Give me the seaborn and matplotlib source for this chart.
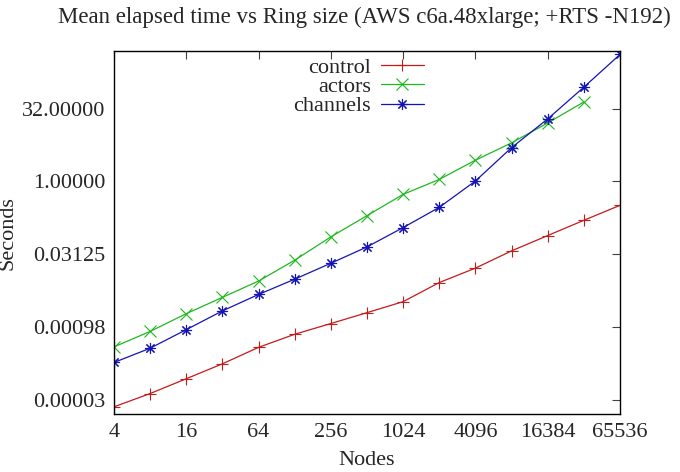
import matplotlib
matplotlib.use("Agg")
import matplotlib.pyplot as plt
import seaborn as sns
import pandas as pd
import numpy as np

nodes = [4, 8, 16, 32, 64, 128, 256, 512, 1024, 2048, 4096, 8192, 16384, 32768, 65536]
control = [2.18e-5, 4.1e-5, 8.3e-5, 1.69e-4, 3.7e-4, 6.9e-4, 1.15e-3, 1.93e-3, 3.26e-3,
           8.1e-3, 0.0161, 0.0366, 0.0759, 0.157, 0.32]
actors = [3.78e-4, 7.9e-4, 1.84e-3, 4.0e-3, 8.7e-3, 0.0235, 0.0713, 0.196, 0.54,
          1.10, 2.75, 6.27, 16.2, 44.0]
channels = [1.8e-4, 3.55e-4, 8.6e-4, 2.1e-3, 4.6e-3, 9.5e-3, 0.0203, 0.0442, 0.111,
            0.291, 1.02, 5.0, 19.6, 89.0, 422.0]
series_names = ["control", "actors", "channels"]
x_ticks = [4, 16, 64, 256, 1024, 4096, 16384, 65536]
y_ticks = [2**-15, 2**-10, 2**-5, 1, 32]
y_tick_labels = ["0.00003", "0.00098", "0.03125", "1.00000", "32.00000"]

rows = []
for name, vals in zip(series_names, [control, actors, channels]):
    for n, v in zip(nodes, vals):
        rows.append({"Nodes": n, "Seconds": v, "series": name})
df = pd.DataFrame(rows)

sns.set_style("white")
plt.rcParams["font.family"] = ["Liberation Serif", "DejaVu Serif"]
FS = 16

fig = plt.figure(figsize=(6.8, 4.72), dpi=100)
ax = fig.add_axes([114/680, 1 - 414.3/472, (620-114)/680, (414.3-51)/472])

palette = {"control": "#c41a1a", "actors": "#1fb81f", "channels": "#1414b4"}
markers = {"control": "+", "actors": "x", "channels": (8, 2, 0)}
sns.lineplot(data=df, x="Nodes", y="Seconds", hue="series", style="series",
             hue_order=series_names, style_order=series_names,
             palette=palette, markers=markers, dashes=False, linewidth=0.9,
             markersize=8, markeredgewidth=0.8, ax=ax, legend=True)
for ln in ax.lines:
    ln.set_markeredgecolor(ln.get_color())

ax.set_xscale("log", base=2)
ax.set_yscale("log", base=2)
ax.set_xlim(4, 65536)
ax.set_ylim(2**-16, 2**8.96)
ax.set_xticks(x_ticks)
ax.set_xticklabels([str(t) for t in x_ticks])
ax.set_yticks(y_ticks)
ax.set_yticklabels(y_tick_labels)
ax.minorticks_off()
ax.tick_params(axis="both", which="major", direction="in", length=6, width=0.8,
               top=True, right=True, labelsize=FS, pad=6, color="#404040")
for s in ax.spines.values():
    s.set_linewidth(1.0)
    s.set_color("black")

ax.set_xlabel("Nodes", fontsize=FS, labelpad=7)
ax.set_ylabel("Seconds", fontsize=FS)
ax.yaxis.set_label_coords((18 - 114) / 506, 0.5)
fig.text(364/680, 1 - 17/472, "Mean elapsed time vs Ring size (AWS c6a.48xlarge; +RTS -N192)",
         ha="center", va="center", fontsize=16.5)

h, l = ax.get_legend_handles_labels()
for hd in h:
    hd.set_markeredgecolor(hd.get_color())
leg = ax.legend(h, l, loc="upper right", bbox_to_anchor=((424 - 114) / 506, 1 - 6 / 363.3),
                frameon=False, borderpad=0, borderaxespad=0,
                markerfirst=False, fontsize=FS, handlelength=1.95, labelspacing=-0.05,
                handletextpad=0.45)
for t in leg.get_texts():
    t.set_ha("right")

fig.savefig("out.png", dpi=100)
